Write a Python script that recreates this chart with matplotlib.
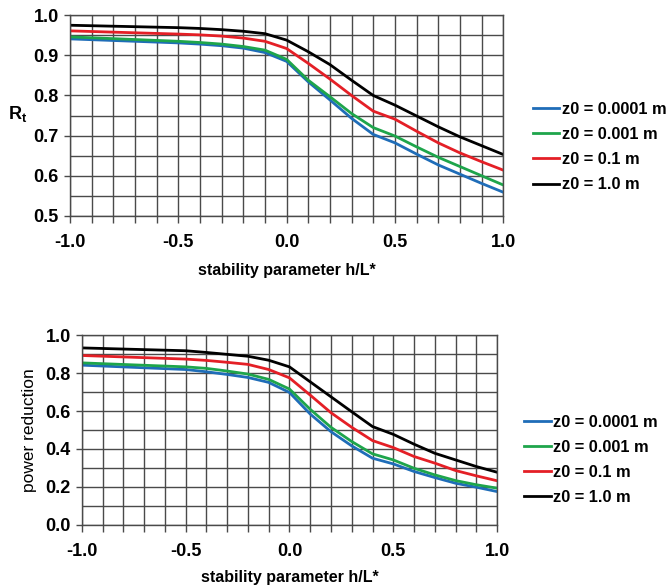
import matplotlib
matplotlib.use("Agg")
import matplotlib.pyplot as plt
from matplotlib.ticker import MultipleLocator

plt.rcParams['font.family'] = ['Liberation Sans', 'DejaVu Sans']
plt.rcParams['mathtext.fontset'] = 'custom'
plt.rcParams['mathtext.rm'] = 'Liberation Sans'
plt.rcParams['mathtext.bf'] = 'Liberation Sans:bold'

x = [-1.0, -0.5, -0.4, -0.3, -0.2, -0.1, 0.0, 0.1, 0.2, 0.3, 0.4, 0.5, 0.6, 0.7, 0.8, 0.9, 1.0]
labels = ['z0 = 0.0001 m', 'z0 = 0.001 m', 'z0 = 0.1 m', 'z0 = 1.0 m']

rt_0001 = [0.941, 0.931, 0.928, 0.924, 0.918, 0.907, 0.885, 0.834, 0.789, 0.743, 0.703, 0.682, 0.654, 0.627, 0.604, 0.581, 0.559]
rt_001 = [0.946, 0.935, 0.932, 0.928, 0.922, 0.913, 0.890, 0.838, 0.797, 0.755, 0.720, 0.699, 0.672, 0.646, 0.623, 0.600, 0.577]
rt_01 = [0.961, 0.953, 0.951, 0.948, 0.943, 0.935, 0.917, 0.880, 0.841, 0.800, 0.761, 0.741, 0.711, 0.682, 0.657, 0.635, 0.614]
rt_1 = [0.975, 0.969, 0.967, 0.964, 0.960, 0.954, 0.938, 0.909, 0.877, 0.838, 0.800, 0.776, 0.749, 0.722, 0.697, 0.675, 0.653]

pr_0001 = [0.842, 0.819, 0.807, 0.793, 0.777, 0.751, 0.698, 0.584, 0.491, 0.416, 0.351, 0.321, 0.281, 0.249, 0.219, 0.198, 0.175]
pr_001 = [0.854, 0.833, 0.825, 0.811, 0.795, 0.767, 0.716, 0.609, 0.514, 0.439, 0.374, 0.342, 0.298, 0.263, 0.233, 0.211, 0.193]
pr_01 = [0.893, 0.874, 0.867, 0.857, 0.846, 0.819, 0.775, 0.684, 0.591, 0.514, 0.444, 0.407, 0.360, 0.325, 0.286, 0.258, 0.232]
pr_1 = [0.933, 0.918, 0.909, 0.899, 0.889, 0.868, 0.833, 0.754, 0.675, 0.596, 0.518, 0.477, 0.425, 0.377, 0.342, 0.307, 0.277]

colors = ['#1f6db8', '#1ea54b', '#e41f26', '#000000']

fig = plt.figure(figsize=(6.7, 5.85), dpi=100)
ax1 = fig.add_axes([0.1045, 0.631, 0.6465, 0.343])
ax2 = fig.add_axes([0.122, 0.103, 0.620, 0.324])

def style(ax, ymin, ymax, ymajor, yminor):
    ax.set_xlim(-1.0, 1.0)
    ax.set_ylim(ymin, ymax)
    ax.xaxis.set_major_locator(MultipleLocator(0.5))
    ax.xaxis.set_minor_locator(MultipleLocator(0.1))
    ax.yaxis.set_major_locator(MultipleLocator(ymajor))
    ax.yaxis.set_minor_locator(MultipleLocator(yminor))
    ax.grid(True, which='both', color='#4a4a4a', linewidth=1.0)
    ax.set_axisbelow(True)
    for s in ax.spines.values():
        s.set_color('#4a4a4a')
        s.set_linewidth(1.0)
    ax.tick_params(which='both', direction='out', length=5, color='#4a4a4a', width=1.0)
    ax.tick_params(axis='y', which='minor', length=0)
    ax.tick_params(axis='y', which='major', length=4, pad=4)
    ax.tick_params(axis='x', which='major', pad=8)
    ax.tick_params(labelsize=13)
    ax.xaxis.set_major_formatter(plt.FormatStrFormatter('%.1f'))
    ax.yaxis.set_major_formatter(plt.FormatStrFormatter('%.1f'))
    ax.set_xlabel('stability parameter h/L*', fontsize=11.5, fontweight='bold', labelpad=9)

for ys, c, l in zip([rt_0001, rt_001, rt_01, rt_1], colors, labels):
    ax1.plot(x, ys, color=c, lw=2, label=l)
for ys, c, l in zip([pr_0001, pr_001, pr_01, pr_1], colors, labels):
    ax2.plot(x, ys, color=c, lw=2, label=l)

style(ax1, 0.5, 1.0, 0.1, 0.05)
style(ax2, 0.0, 1.0, 0.2, 0.1)
for ax in (ax1, ax2):
    for lab in ax.get_xticklabels() + ax.get_yticklabels():
        lab.set_fontweight('bold')
ax2.xaxis.labelpad = 7

ax1.set_ylabel(r'$\mathbf{R_t}$', fontsize=13, rotation=0, va='center', ha='center')
ax1.yaxis.set_label_coords(-0.12, 0.51)
ax2.set_ylabel('power reduction', fontsize=12.5, labelpad=6)

leg_kw = dict(frameon=False, handlelength=1.6, handletextpad=0.15, labelspacing=0.62,
              prop={'weight': 'bold', 'size': 11.8})
ax1.legend(loc='center left', bbox_to_anchor=(1.035, 0.343), **leg_kw)
ax2.legend(loc='center left', bbox_to_anchor=(1.03, 0.342), **leg_kw)

fig.savefig('out.png', dpi=100)
